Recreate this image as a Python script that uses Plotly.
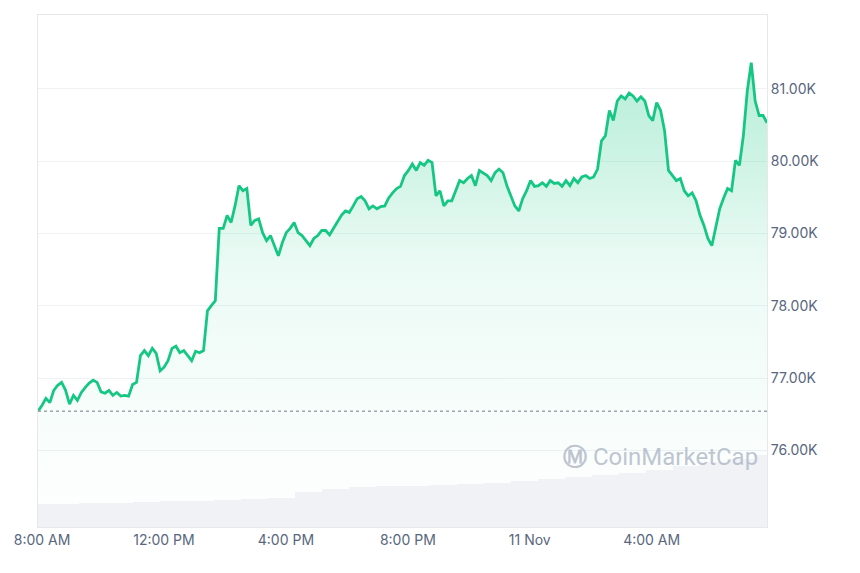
import pandas as pd
import plotly.graph_objects as go

# BTC price (USD), evenly spaced samples over the 24h window
prices_k = [
    76.54, 76.62, 76.72, 76.66, 76.83, 76.90, 76.94, 76.83, 76.64, 76.76, 76.69, 76.80,
    76.87, 76.93, 76.97, 76.94, 76.81, 76.79, 76.83, 76.76, 76.80, 76.75, 76.76, 76.75,
    76.91, 76.94, 77.31, 77.38, 77.31, 77.41, 77.34, 77.10, 77.15, 77.24, 77.41, 77.44,
    77.35, 77.38, 77.31, 77.24, 77.37, 77.35, 77.38, 77.93, 78.00, 78.07, 79.07, 79.07,
    79.25, 79.15, 79.38, 79.66, 79.59, 79.62, 79.11, 79.18, 79.20, 79.01, 78.90, 78.97,
    78.83, 78.69, 78.87, 79.01, 79.07, 79.15, 79.01, 78.97, 78.90, 78.83, 78.93, 78.97,
    79.04, 79.04, 78.98, 79.07, 79.15, 79.25, 79.31, 79.29, 79.38, 79.48, 79.51, 79.45,
    79.34, 79.38, 79.34, 79.37, 79.38, 79.49, 79.56, 79.62, 79.65, 79.80, 79.87, 79.96,
    79.87, 79.98, 79.94, 80.01, 79.98, 79.52, 79.59, 79.38, 79.45, 79.45, 79.59, 79.73,
    79.70, 79.76, 79.80, 79.66, 79.87, 79.84, 79.80, 79.73, 79.84, 79.89, 79.84, 79.66,
    79.52, 79.38, 79.31, 79.48, 79.59, 79.73, 79.65, 79.66, 79.70, 79.65, 79.73, 79.69,
    79.70, 79.65, 79.73, 79.66, 79.76, 79.70, 79.78, 79.80, 79.76, 79.78, 79.89, 80.28,
    80.35, 80.70, 80.56, 80.83, 80.90, 80.86, 80.94, 80.90, 80.83, 80.89, 80.83, 80.63,
    80.56, 80.81, 80.70, 80.42, 79.87, 79.80, 79.73, 79.76, 79.59, 79.52, 79.56, 79.45,
    79.25, 79.11, 78.93, 78.83, 79.11, 79.34, 79.49, 79.62, 79.59, 80.01, 79.94, 80.35,
    80.97, 81.36, 80.83, 80.63, 80.63, 80.53,
]
prices = [p * 1000 for p in prices_k]
start_price = 76540

# hourly 24h volume (arbitrary units, B)
volume = [22, 22, 23, 23, 24, 25, 25, 26, 27, 28, 34, 37, 39, 40, 40, 41, 42, 43,
          45, 47, 49, 51, 53, 56, 60, 63, 66, 70]

t0 = pd.Timestamp("2024-11-10 07:52")
t1 = pd.Timestamp("2024-11-11 07:47")
times = pd.date_range(t0, t1, periods=len(prices))
vol_times = pd.date_range(t0, t1, periods=len(volume))

y_lo, y_hi = 74940, 82020
tick_vals = [76000, 77000, 78000, 79000, 80000, 81000]
tick_text = ["76.00K", "77.00K", "78.00K", "79.00K", "80.00K", "81.00K"]
x_tick_vals = ["2024-11-10 08:00", "2024-11-10 12:00", "2024-11-10 16:00",
               "2024-11-10 20:00", "2024-11-11 00:00", "2024-11-11 04:00"]
x_tick_text = ["8:00 AM", "12:00 PM", "4:00 PM", "8:00 PM", "11 Nov", "4:00 AM"]

green = "#16c784"
fig = go.Figure()

fig.add_trace(go.Bar(
    x=vol_times, y=volume, yaxis="y2", marker_color="#f0f2f6",
    marker_line_width=0, showlegend=False, hoverinfo="skip"))

# invisible floor for the gradient fill
fig.add_trace(go.Scatter(
    x=times, y=[y_lo] * len(times), mode="lines", line=dict(width=0),
    showlegend=False, hoverinfo="skip"))
fig.add_trace(go.Scatter(
    x=times, y=prices, mode="lines", line=dict(color=green, width=2.8),
    fill="tonexty",
    fillgradient=dict(type="vertical", colorscale=[
        [0, "rgba(22,199,132,0)"], [0.55, "rgba(22,199,132,0.08)"], [1, "rgba(22,199,132,0.32)"]]),
    showlegend=False))

fig.add_shape(type="line", xref="paper", x0=0, x1=1, y0=start_price, y1=start_price,
              line=dict(color="#a0a4ad", width=1.5, dash="dot"))

fig.add_annotation(text="<b>Ⓜ</b> CoinMarketCap", xref="paper", yref="y",
                   x=0.99, y=75910, xanchor="right", showarrow=False,
                   font=dict(family="Roboto, sans-serif", size=24, color="rgba(170,178,195,0.75)"))

fig.update_layout(
    width=860, height=573,
    margin=dict(l=26, r=101, t=6, b=54),
    paper_bgcolor="white", plot_bgcolor="white",
    bargap=0,
    xaxis=dict(range=[t0, t1], tickvals=x_tick_vals, ticktext=x_tick_text,
               showgrid=False, showline=True, linecolor="#e6e8ec", mirror=True,
               ticks="", tickfont=dict(family="Inter, sans-serif", size=14, color="#58667e")),
    yaxis=dict(range=[y_lo, y_hi], side="right", tickvals=tick_vals, ticktext=tick_text,
               gridcolor="#eff2f5", showline=True, linecolor="#e6e8ec", mirror=True,
               zeroline=False, ticks="",
               tickfont=dict(family="Inter, sans-serif", size=14, color="#58667e")),
    yaxis2=dict(range=[0, 500], overlaying="y", visible=False),
)

fig.write_html("out.html")
